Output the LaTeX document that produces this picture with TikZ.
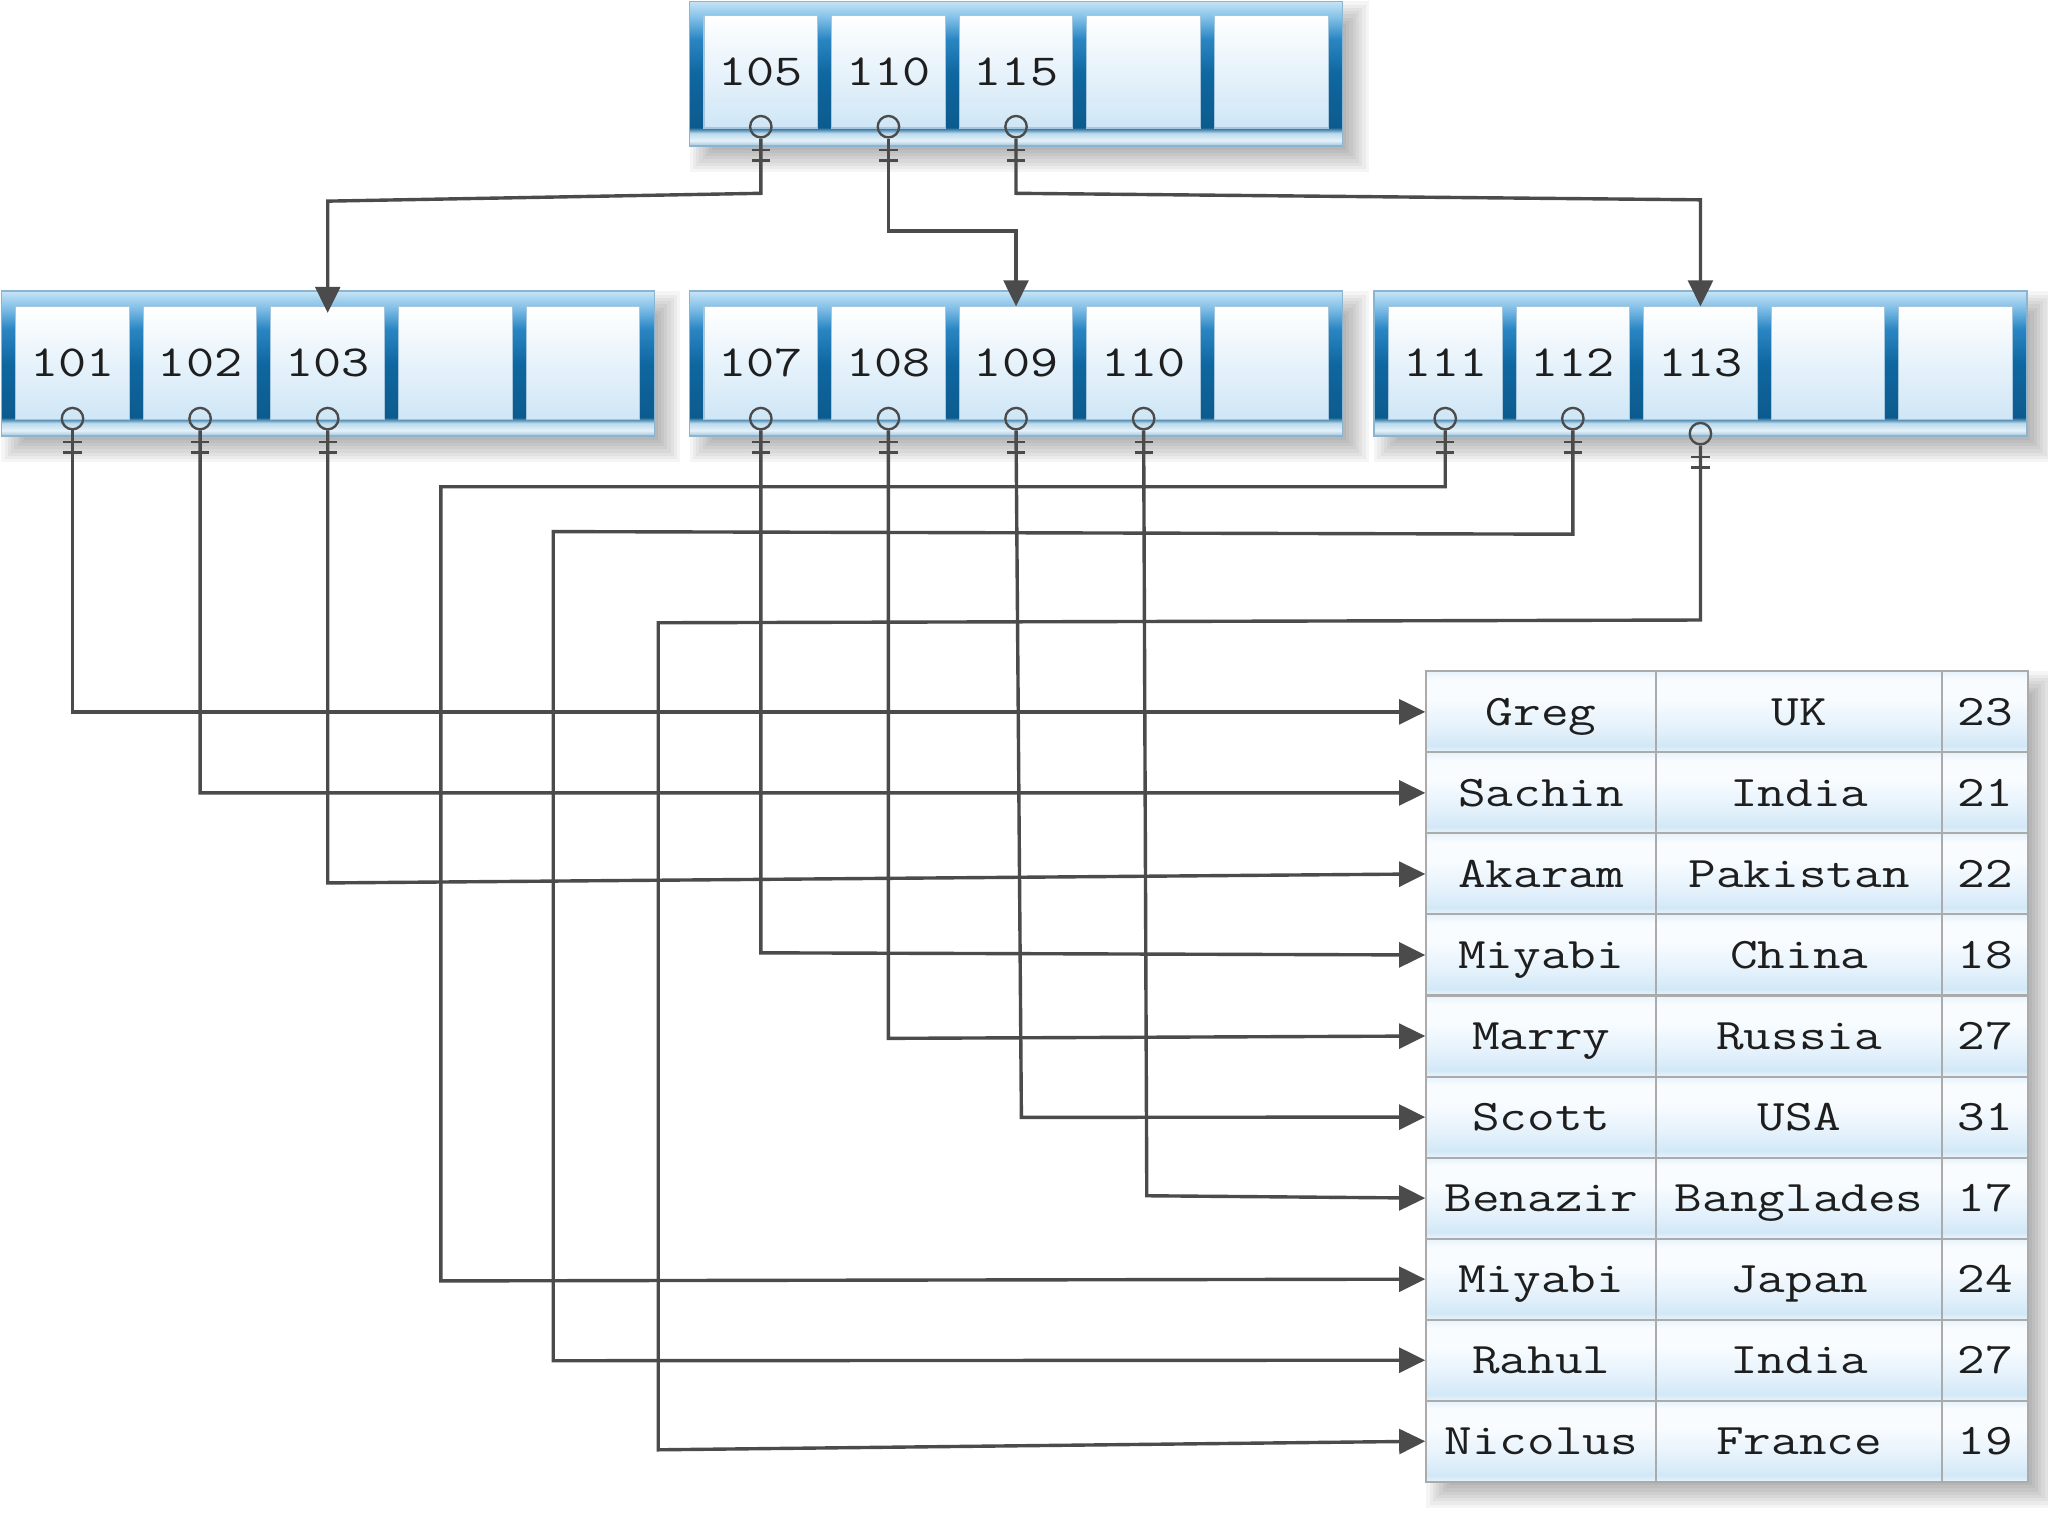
\documentclass[tikz,border=0pt]{standalone}
\usepackage{fontspec}
\newfontfamily\cour{Latin Modern Mono}[FakeStretch=1.23]
\usetikzlibrary{arrows.meta}
\definecolor{fb0}{HTML}{9FBFD3}
\definecolor{fb1}{HTML}{E4F2FA}
\definecolor{fb2}{HTML}{BCD9EB}
\definecolor{fb3}{HTML}{0C5B8E}
\definecolor{fb4}{HTML}{0F67A0}
\definecolor{fb5}{HTML}{2A86C3}
\definecolor{fb6}{HTML}{7DBDE6}
\definecolor{fb7}{HTML}{C6E4F6}
\definecolor{rw0}{HTML}{E9F4FB}
\definecolor{rw1}{HTML}{D2E8F7}
\definecolor{rw2}{HTML}{E4F1FB}
\definecolor{rw3}{HTML}{F8FCFF}
\definecolor{rw4}{HTML}{E6F2FB}
\definecolor{cellbot}{HTML}{CFE6F6}
\definecolor{cellbd}{HTML}{A5C6DC}
\definecolor{frbd}{HTML}{8AB4CF}
\definecolor{linec}{HTML}{4B4B4B}
\definecolor{txt}{HTML}{1E1E1E}
\definecolor{tbd}{HTML}{ABABAB}
\pgfdeclareverticalshading{frameshade}{100bp}{color(0bp)=(fb0); color(25bp)=(fb0); color(27bp)=(fb1); color(29.5bp)=(fb2); color(31.5bp)=(fb3); color(50bp)=(fb4); color(62bp)=(fb5); color(69bp)=(fb6); color(75bp)=(fb7); color(100bp)=(fb7)}
\pgfdeclareverticalshading{rowshade}{100bp}{color(0bp)=(rw0); color(25bp)=(rw0); color(29bp)=(rw1); color(40bp)=(rw2); color(58bp)=(rw3); color(70bp)=(rw3); color(75bp)=(rw4); color(100bp)=(rw4)}
\newcommand\softshadow[4]{%
  \foreach \i in {0,...,7}{\fill[black,opacity=0.04] ({#1+\i*2.5},{#2+\i*2.5}) rectangle ({#3+20-\i*2.5},{#4+20-\i*2.5});}}
\newcommand\mytick[1]{\draw[tickm] ([xshift=-3.5pt,yshift=-9pt]#1.center) -- ++(14,0) ([xshift=-3.5pt,yshift=-13pt]#1.center) -- ++(14,0);}
\begin{document}
\begin{tikzpicture}[x=0.5pt,y=-0.5pt,
  cell/.style={minimum width=43.5pt, minimum height=43pt, inner sep=0pt,
    top color=white, bottom color=cellbot, draw=cellbd, line width=0.4pt,
    font=\cour\fontsize{17}{20}\selectfont, text=txt, text height=10.5pt, text depth=0pt},
  tcell/.style={minimum height=31.025pt, inner sep=0pt, shading=rowshade,
    draw=tbd, line width=0.8pt, font=\cour\fontsize{16.7}{20}\selectfont,
    text=txt, text height=10.2pt, text depth=0pt},
  ring/.style={circle, draw=linec, line width=0.9pt, minimum size=8.2pt, inner sep=0pt},
  tickm/.style={draw=linec, line width=0.9pt},
  conn/.style={draw=linec, line width=1.3pt, -{Triangle[length=10pt,width=9.5pt]}}]
\useasboundingbox[fill=white] (0,0) rectangle (1568,1176);

% shadows
\softshadow{528}{1}{1028}{112}
\softshadow{1}{223}{501}{334}
\softshadow{528}{223}{1028}{334}
\softshadow{1052}{223}{1552}{334}
\softshadow{1092}{514}{1553}{1134.5}

% frames
\foreach \L/\T in {528/1, 1/223, 528/223, 1052/223}{
  \shade[shading=frameshade, draw=frbd, line width=0.6pt] (\L,\T) rectangle ++(500,111);
}

% top node
\node[cell] (t1) at (582.5,55) {105};
\node[cell] (t2) at (680.2,55) {110};
\node[cell] (t3) at (777.9,55) {115};
\node[cell] (t4) at (875.6,55) {};
\node[cell] (t5) at (973.3,55) {};

% left node
\node[cell] (l1) at (55.5,278) {101};
\node[cell] (l2) at (153.2,278) {102};
\node[cell] (l3) at (250.9,278) {103};
\node[cell] (l4) at (348.6,278) {};
\node[cell] (l5) at (446.3,278) {};

% middle node
\node[cell] (m1) at (582.5,278) {107};
\node[cell] (m2) at (680.2,278) {108};
\node[cell] (m3) at (777.9,278) {109};
\node[cell] (m4) at (875.6,278) {110};
\node[cell] (m5) at (973.3,278) {};

% right node
\node[cell] (r1) at (1106.5,278) {111};
\node[cell] (r2) at (1204.2,278) {112};
\node[cell] (r3) at (1301.9,278) {113};
\node[cell] (r4) at (1399.6,278) {};
\node[cell] (r5) at (1497.3,278) {};

% table
\foreach \i/\a/\b/\c in {1/Greg/UK/23, 2/Sachin/India/21, 3/Akaram/Pakistan/22,
  4/Miyabi/China/18, 5/Marry/Russia/27, 6/Scott/USA/31, 7/Benazir/Banglades/17,
  8/Miyabi/Japan/24, 9/Rahul/India/27, 10/Nicolus/France/19}{
  \pgfmathsetmacro\yy{545+62.05*(\i-1)}
  \node[tcell, minimum width=88pt] (n\i) at (1180,\yy) {\a};
  \node[tcell, minimum width=109.5pt] (c\i) at (1377.5,\yy) {\b};
  \node[tcell, minimum width=33pt] (g\i) at (1520,\yy) {\c};
}
\draw[tbd, line width=0.8pt] (1092,514) rectangle (1553,1134.5);

% rings
\node[ring] (ct1) at (582.5,97) {};
\node[ring] (ct2) at (680.2,97) {};
\node[ring] (ct3) at (777.9,97) {};
\node[ring] (cl1) at (55.5,320.5) {};
\node[ring] (cl2) at (153.2,320.5) {};
\node[ring] (cl3) at (250.9,320.5) {};
\node[ring] (cm1) at (582.5,320.5) {};
\node[ring] (cm2) at (680.2,320.5) {};
\node[ring] (cm3) at (777.9,320.5) {};
\node[ring] (cm4) at (875.6,320.5) {};
\node[ring] (cr1) at (1106.5,320.5) {};
\node[ring] (cr2) at (1204.2,320.5) {};
\node[ring] (cr3) at (1301.9,332) {};
\foreach \n in {ct1,ct2,ct3,cl1,cl2,cl3,cm1,cm2,cm3,cm4,cr1,cr2,cr3}{\mytick{\n}}

% connectors: root to leaves
\draw[conn] (ct1.south) -- (582.5,148) -- (250.9,154) -- ([yshift=-2.5pt]l3.north);
\draw[conn] (ct2.south) -- (680.2,177) -- (777.9,177) -- (m3.north);
\draw[conn] (ct3.south) -- (777.9,148) -- (1301.9,153) -- (r3.north);

% connectors: leaves to rows
\draw[conn] (cl1.south) -- (55.5,545) -- (n1.west);
\draw[conn] (cl2.south) -- (153.2,607) -- (n2.west);
\draw[conn] (cl3.south) -- (250.9,676) -- (n3.west);
\draw[conn] (cm1.south) -- (582.5,729.5) -- (n4.west);
\draw[conn] (cm2.south) -- (680.2,795) -- (n5.west);
\draw[conn] (cm3.south) -- (782,855.5) -- (n6.west);
\draw[conn] (cm4.south) -- (878,915.5) -- (n7.west);
\draw[conn] (cr1.south) -- (1106.5,372.7) -- (337.5,372.7) -- (337.5,980.7) -- (n8.west);
\draw[conn] (cr2.south) -- (1204.2,409) -- (423.6,407) -- (423.6,1041.8) -- (n9.west);
\draw[conn] (cr3.south) -- (1301.9,474.7) -- (504,476.8) -- (504,1110) -- (n10.west);
\end{tikzpicture}
\end{document}
